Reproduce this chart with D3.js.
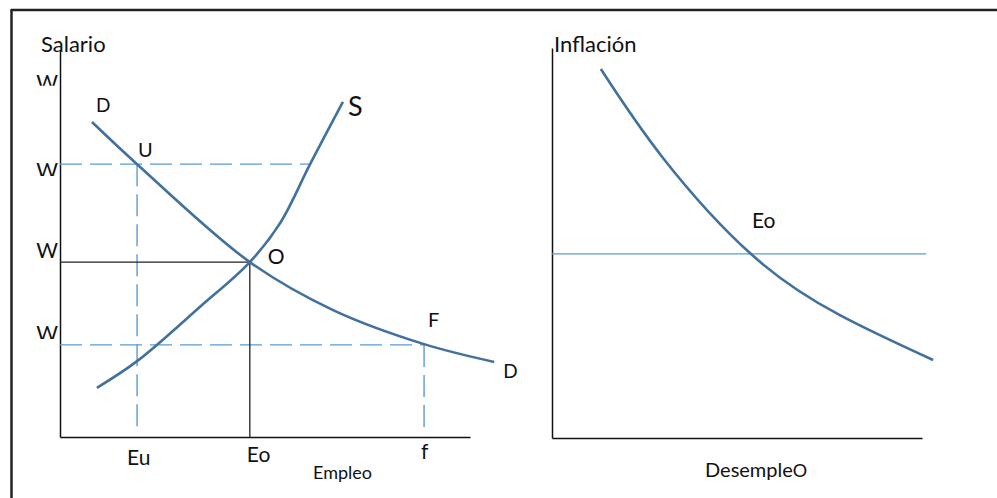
<!DOCTYPE html>
<html><head><meta charset="utf-8">
<script src="https://cdn.jsdelivr.net/npm/d3@7"></script>
<style>body{margin:0;background:#fff} text{font-family:Lato,"Open Sans",sans-serif;fill:#111}</style>
</head><body><svg id="c" width="997" height="498"></svg>
<script>
// ---- data ----
const demandE = [7.8,18.8,46.3,66.6,88.8,105.9];
const demandW = [81.4,70.5,45.2,32.8,24.0,19.4];
const supplyE = [9.0,18.8,34.1,46.3,53.7,61.0,69.0];
const supplyW = [12.7,19.6,33.6,45.2,55.3,70.5,86.6];
const wageLevels = [70.5,45.2,23.8];      // Wu, Wo, Wf
const employLevels = [18.8,46.3,88.8];    // Eu, Eo, f
const xTickLabels = ["Eu","Eo","f"];
const yTickLabels = ["W","W","W","W"];
const yTickPos = [89.7,66.9,46.3,24.8];
const phillipsU = [13.2,30.0,54.1,77.8,103.0];
const phillipsInf = [94.6,71.8,46.9,31.5,20.0];
const naturalInf = 47.2;

const svg = d3.select("#c");
const curveCol = "#41719c", dashCol = "#5b9bd5";

// frame
svg.append("line").attr("x1",11).attr("x2",997).attr("y1",10).attr("y2",10).attr("stroke","#222").attr("stroke-width",2.5);
svg.append("line").attr("x1",11.5).attr("x2",11.5).attr("y1",9).attr("y2",498).attr("stroke","#222").attr("stroke-width",2.5);

// ---- left chart ----
const x = d3.scaleLinear().domain([0,100]).range([60,470]);
const y = d3.scaleLinear().domain([0,100]).range([437,50]);
const L = svg.append("g");

L.append("g").attr("transform",`translate(0,${y(0)})`)
 .call(d3.axisBottom(x).tickValues([]).tickSizeOuter(0))
 .select(".domain").attr("stroke","#111").attr("stroke-width",1.5);
L.append("g").attr("transform",`translate(${x(0)},0)`)
 .call(d3.axisLeft(y).tickValues([]).tickSizeOuter(0))
 .select(".domain").attr("stroke","#111").attr("stroke-width",1.5);

const dash = (x1,y1,x2,y2)=>L.append("line").attr("x1",x(x1)).attr("y1",y(y1)).attr("x2",x(x2)).attr("y2",y(y2))
  .attr("stroke",dashCol).attr("stroke-width",1.4).attr("stroke-dasharray","22,8");
const solid = (x1,y1,x2,y2)=>L.append("line").attr("x1",x(x1)).attr("y1",y(y1)).attr("x2",x(x2)).attr("y2",y(y2))
  .attr("stroke","#222").attr("stroke-width",1.3);

dash(0,wageLevels[0],61.0,wageLevels[0]);
dash(employLevels[0],wageLevels[0],employLevels[0],1.0);
dash(0,wageLevels[2],employLevels[2],wageLevels[2]);
dash(employLevels[2],wageLevels[2],employLevels[2],2.3);
solid(0,wageLevels[1],employLevels[1],wageLevels[1]);
solid(employLevels[1],wageLevels[1],employLevels[1],0);

const lineL = d3.line().x(d=>x(d[0])).y(d=>y(d[1])).curve(d3.curveCatmullRom.alpha(0.5));
L.append("path").attr("d",lineL(d3.zip(demandE,demandW))).attr("fill","none").attr("stroke",curveCol).attr("stroke-width",2.6);
L.append("path").attr("d",lineL(d3.zip(supplyE,supplyW))).attr("fill","none").attr("stroke",curveCol).attr("stroke-width",2.6);

const txt = (g,s,px,py,size,anchor)=>g.append("text").attr("x",px).attr("y",py).attr("font-size",size).attr("text-anchor",anchor||"start").text(s);

txt(L,"Salario",41,52,22);
const clipOff = [-4,-2,null,-2];
yTickLabels.forEach((s,i)=>{
  const by = y(yTickPos[i]);
  const t = txt(L,s,58,by,21,"end");
  if(clipOff[i]!==null){
    const id="wc"+i;
    svg.append("clipPath").attr("id",id).append("rect").attr("x",20).attr("y",by-30).attr("width",45).attr("height",30+clipOff[i]);
    t.attr("clip-path",`url(#${id})`);
  }
});
const xlOff=[[-10,28],[-3,25],[-3,22]];
xTickLabels.forEach((s,i)=>txt(L,s,x(employLevels[i])+xlOff[i][0],y(0)+xlOff[i][1],21));
txt(L,"Empleo",313,479,18);
txt(L,"D",x(demandE[0])+4,y(demandW[0])-10,19);
txt(L,"U",x(employLevels[0])+1,y(wageLevels[0])-7,20);
txt(L,"S",x(supplyE[supplyE.length-1])+5,y(supplyW[supplyW.length-1])+14,27);
txt(L,"O",x(employLevels[1])+18,y(wageLevels[1])+2,21);
txt(L,"F",x(employLevels[2])+4,y(wageLevels[2])-18,20);
txt(L,"D",x(demandE[demandE.length-1])+9,y(demandW[demandW.length-1])+16,19);

// ---- right chart ----
const x2 = d3.scaleLinear().domain([0,100]).range([552,922]);
const y2 = d3.scaleLinear().domain([0,100]).range([438,48]);
const R = svg.append("g");
R.append("g").attr("transform",`translate(0,${y2(0)})`)
 .call(d3.axisBottom(x2).tickValues([]).tickSizeOuter(0))
 .select(".domain").attr("stroke","#111").attr("stroke-width",1.5);
R.append("g").attr("transform",`translate(${x2(0)},0)`)
 .call(d3.axisLeft(y2).tickValues([]).tickSizeOuter(0))
 .select(".domain").attr("stroke","#111").attr("stroke-width",1.5);
R.append("line").attr("x1",x2(0)).attr("x2",x2(101.1)).attr("y1",y2(naturalInf)).attr("y2",y2(naturalInf))
 .attr("stroke",dashCol).attr("stroke-width",1.4);
const lineR = d3.line().x(d=>x2(d[0])).y(d=>y2(d[1])).curve(d3.curveNatural);
R.append("path").attr("d",lineR(d3.zip(phillipsU,phillipsInf))).attr("fill","none").attr("stroke",curveCol).attr("stroke-width",2.6);
txt(R,"Inflación",554,52,22);
txt(R,"Eo",752,228,21);
const dt = txt(R,"Desemple",705,477,20);
dt.append("tspan").attr("font-size",18).text("O");
</script></body></html>
